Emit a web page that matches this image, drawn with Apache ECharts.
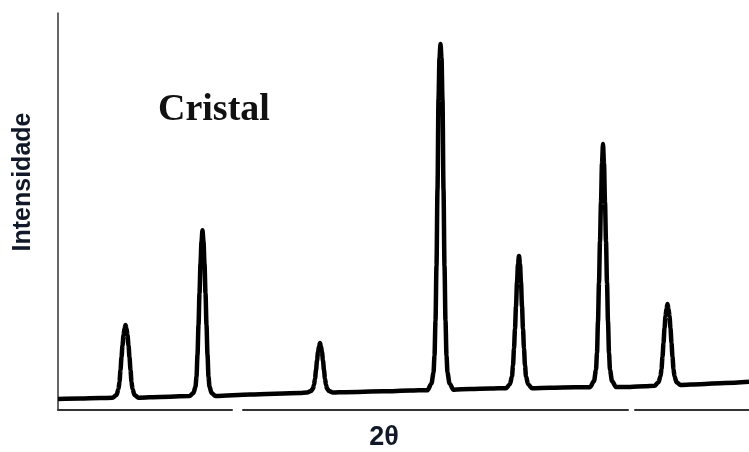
<!DOCTYPE html>
<html>
<head>
<meta charset="utf-8">
<script src="https://cdn.jsdelivr.net/npm/echarts@6/dist/echarts.min.js"></script>
<style>html,body{margin:0;padding:0;background:#fff;}#chart{width:749px;height:452px;}</style>
</head>
<body>
<div id="chart"></div>
<script>
// 2θ (deg) vs intensity (arbitrary units, 0-100)
const baseline = [[5.8,2.8],[8.0,2.9],[10.0,3.0],[16.0,3.3],[25.0,3.9],[30.0,4.3],[34.5,4.5],[38.3,4.7],[41.0,4.9],[47.0,5.3],[49.0,5.4],[55.0,5.6],[57.5,5.7],[63.0,5.8],[64.5,6.0],[70.0,6.5],[72.5,6.8],[74.9,7.1]];
const peak1 = [[11.25,3.1],[11.65,3.8],[11.85,5.3],[11.95,7.1],[12.05,10.1],[12.15,13.3],[12.25,16.3],[12.35,18.8],[12.45,20.5],[12.55,21.4],[12.65,20.5],[12.75,18.8],[12.85,16.3],[12.95,13.3],[13.05,10.1],[13.15,7.1],[13.25,5.3],[13.45,3.8],[13.85,3.1]];
const peak2 = [[18.95,3.5],[19.35,4.3],[19.55,5.9],[19.65,8.4],[19.75,13.9],[19.85,21.4],[19.95,29.4],[20.05,36.9],[20.15,42.4],[20.25,45.3],[20.35,42.4],[20.45,36.9],[20.55,29.4],[20.65,21.4],[20.75,13.9],[20.85,8.4],[20.95,5.9],[21.15,4.3],[21.55,3.5]];
const peak3 = [[30.7,4.4],[31.1,4.8],[31.3,5.4],[31.4,6.3],[31.5,7.9],[31.6,10.0],[31.7,12.4],[31.8,14.6],[31.9,16.0],[32.0,16.9],[32.1,16.0],[32.2,14.6],[32.3,12.4],[32.4,10.0],[32.5,7.9],[32.6,6.3],[32.7,5.4],[32.9,4.8],[33.3,4.4]];
const peak4 = [[42.75,5.0],[43.15,6.7],[43.35,9.4],[43.45,13.7],[43.55,22.4],[43.65,36.4],[43.75,55.6],[43.85,78.2],[43.95,88.7],[44.05,92.2],[44.15,88.7],[44.25,78.2],[44.35,55.6],[44.45,36.4],[44.55,22.4],[44.65,13.7],[44.75,9.4],[44.95,6.7],[45.35,5.1]];
const peak5 = [[50.6,5.5],[51.0,6.5],[51.2,8.5],[51.3,11.2],[51.4,15.5],[51.5,20.5],[51.6,26.1],[51.7,32.1],[51.8,36.8],[51.9,38.8],[52.0,36.8],[52.1,32.1],[52.2,26.1],[52.3,20.5],[52.4,15.5],[52.5,11.2],[52.6,8.5],[52.8,6.5],[53.2,5.5]];
const peak6 = [[59.0,5.75],[59.4,7.3],[59.6,10.1],[59.7,14.4],[59.8,22.3],[59.9,32.1],[60.0,42.5],[60.1,52.3],[60.2,62.1],[60.3,67.0],[60.4,62.1],[60.5,52.3],[60.6,42.5],[60.7,32.1],[60.8,22.3],[60.9,14.4],[61.0,10.1],[61.2,7.3],[61.6,5.8]];
const peak7 = [[65.45,6.1],[65.85,7.0],[66.05,8.5],[66.15,10.3],[66.25,13.4],[66.35,16.9],[66.45,20.6],[66.55,23.6],[66.65,25.5],[66.75,26.7],[66.85,25.5],[66.95,23.6],[67.05,20.6],[67.15,16.9],[67.25,13.4],[67.35,10.3],[67.45,8.5],[67.65,7.0],[68.05,6.3]];

const xLabel = '2θ';
const yLabel = 'Intensidade';
const sampleLabel = 'Cristal';

const pattern = [].concat(baseline, peak1, peak2, peak3, peak4, peak5, peak6, peak7)
  .sort((a, b) => a[0] - b[0]);

const chart = echarts.init(document.getElementById('chart'));
chart.setOption({
  animation: false,
  backgroundColor: '#fff',
  grid: { left: 58, right: 0, top: 13, bottom: 42 },
  xAxis: {
    type: 'value', min: 5.8, max: 74.9,
    axisLine: { show: true, onZero: false, lineStyle: { color: '#333', width: 2, type: [174, 11, 385, 7, 400] } },
    axisTick: { show: false }, axisLabel: { show: false }, splitLine: { show: false }
  },
  yAxis: {
    type: 'value', min: 0, max: 100,
    axisLine: { show: true, lineStyle: { color: '#333', width: 1.5 } },
    axisTick: { show: false }, axisLabel: { show: false }, splitLine: { show: false }
  },
  series: [{
    type: 'line', data: pattern, showSymbol: false, smooth: 0.3, smoothMonotone: 'x',
    lineStyle: { color: '#000', width: 4.5 }
  }],
  graphic: [
    { type: 'text', x: 158, y: 110, style: { text: sampleLabel, font: 'bold 38px "Liberation Serif", serif', fill: '#111', textAlign: 'left', verticalAlign: 'middle' } },
    { type: 'text', x: 23, y: 182, rotation: Math.PI / 2, style: { text: yLabel, font: 'bold 25px "Liberation Sans", Arial, sans-serif', fill: '#111827', textAlign: 'center', verticalAlign: 'middle' } },
    { type: 'text', x: 384, y: 438, style: { text: xLabel, font: 'bold 27px "Liberation Sans", Arial, sans-serif', fill: '#111827', textAlign: 'center', verticalAlign: 'middle' } }
  ]
});
</script>
</body>
</html>
